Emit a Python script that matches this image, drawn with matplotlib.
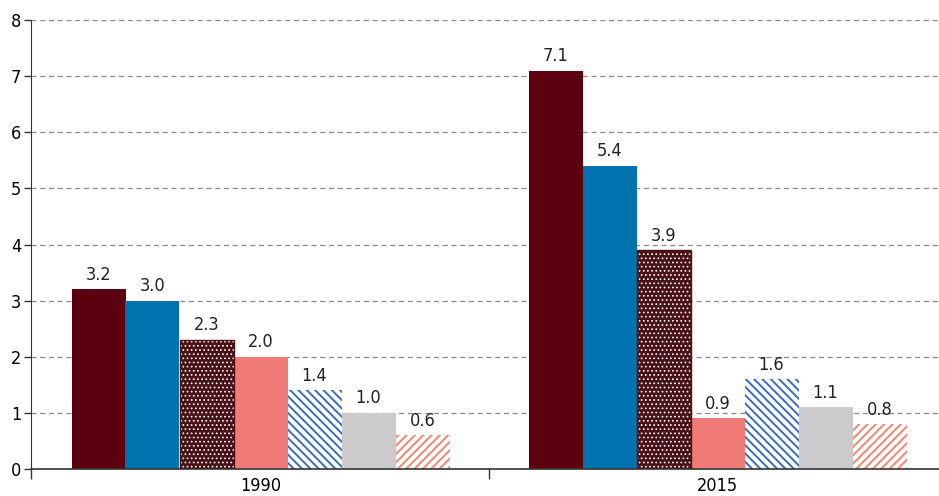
import numpy as np
import matplotlib.pyplot as plt

years = ['1990', '2015']
series_1990 = [3.2, 3.0, 2.3, 2.0, 1.4, 1.0, 0.6]
series_2015 = [7.1, 5.4, 3.9, 0.9, 1.6, 1.1, 0.8]

# face, hatch, hatch colour for the seven bars of each group
styles = [
    ('#5c000f', '', None),
    ('#0072ae', '', None),
    ('#4a1216', '....', 'white'),
    ('#f07b76', '', None),
    ('white', '\\\\\\\\', '#3a6bc0'),
    ('#cccaca', '', None),
    ('white', '////', '#f4856e'),
]

plt.rcParams['font.family'] = ['DejaVu Sans']
plt.rcParams['font.stretch'] = 'condensed'
plt.rcParams['hatch.linewidth'] = 1.4

fig = plt.figure(figsize=(9.39, 4.96), dpi=100)
ax = fig.add_axes([31 / 939, 1 - 469 / 496, 1 - 31 / 939, (469 - 20) / 496])

width = 54 / 457
offsets = (np.arange(7) - 3) * width
data = np.array([series_1990, series_2015])
for i, (fc, hatch, hc) in enumerate(styles):
    vals = data[:, i]
    xs = np.arange(len(years)) + offsets[i]
    bars = ax.bar(xs, vals, width, color=fc, zorder=2,
                  hatch=hatch, edgecolor=hc if hc else fc, linewidth=0)
    if hatch == '....':
        for b in bars:
            try:
                b.set_hatch_linewidth(0.7)
            except AttributeError:
                pass
        ax.bar(xs, vals, width, facecolor='none', edgecolor=fc, linewidth=1, zorder=3)
    for x, v in zip(xs, vals):
        ax.annotate(f'{v:.1f}', (x, v), xytext=(0, 4), textcoords='offset points',
                    ha='center', va='bottom', fontsize=13, color='#222222')

ax.set_ylim(0, 8)
ax.set_xlim((31 - 260.5) / 457, (939 - 260.5) / 457)
ax.set_yticks(range(9))
ax.yaxis.grid(True, linestyle=(0, (4, 3)), color='#888888', linewidth=0.9, zorder=0)
ax.set_axisbelow(True)

ax.set_xticks([0, 1])
ax.set_xticklabels(years)
ax.tick_params(axis='x', length=0, pad=6, labelsize=13)
ax.set_xticks([(31 - 260.5) / 457, 0.5], minor=True)
ax.tick_params(axis='x', which='minor', length=7, width=1, color='#333333', direction='out')
ax.tick_params(axis='y', length=5, width=1, color='#333333', labelsize=13, pad=2)

for s in ['top', 'right']:
    ax.spines[s].set_visible(False)
ax.spines['left'].set_color('#333333')
ax.spines['bottom'].set_color('#333333')
ax.spines['bottom'].set_linewidth(1.2)

fig.savefig('out.png', dpi=100)
